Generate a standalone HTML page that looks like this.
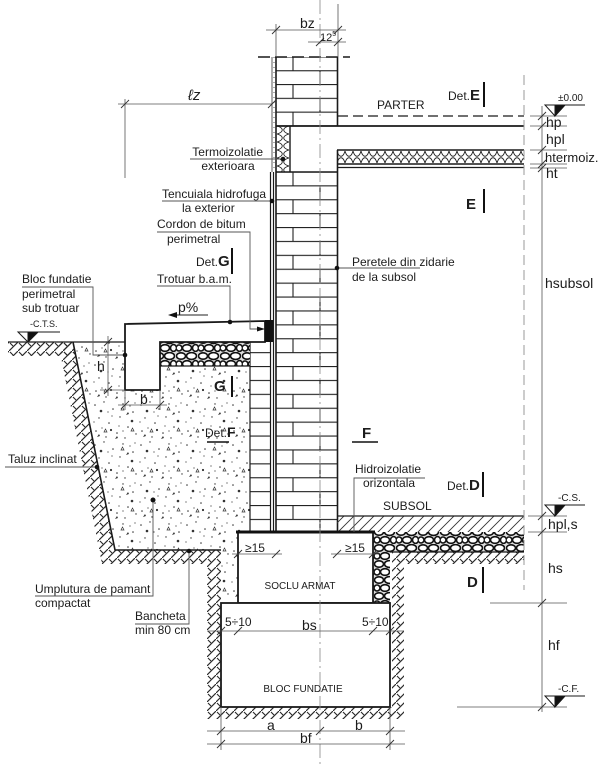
<!DOCTYPE html>
<html><head><meta charset="utf-8"><style>
html,body{margin:0;padding:0;background:#fff;}
svg{display:block;}
text{font-family:"Liberation Sans",Arial,sans-serif;fill:#1c1c1c;}
</style></head><body>
<svg width="604" height="767" viewBox="0 0 604 767" xmlns="http://www.w3.org/2000/svg">
<defs>
<pattern id="brickU" patternUnits="userSpaceOnUse" x="276" y="56.4" width="62" height="27.6">
<path d="M0,0.6H62M0,14.4H62M17,0.6V14.4M44,14.4V28.2" stroke="#222" stroke-width="1.1" fill="none"/>
</pattern>
<pattern id="brickL" patternUnits="userSpaceOnUse" x="276" y="171.4" width="62" height="27.8">
<path d="M0,0.6H62M0,14.5H62M17,0.6V14.5M44,14.5V28.4" stroke="#222" stroke-width="1.1" fill="none"/>
</pattern>
<pattern id="brickP" patternUnits="userSpaceOnUse" x="250" y="171.4" width="20" height="13.9">
<path d="M0,0.6H20" stroke="#222" stroke-width="1.1"/>
</pattern>
<pattern id="insH" patternUnits="userSpaceOnUse" x="337" y="150" width="8" height="14">
<path d="M0,1 C2,8 6,8 8,1 M0,13 C2,6 6,6 8,13" stroke="#222" stroke-width="0.9" fill="none"/>
</pattern>
<pattern id="insV" patternUnits="userSpaceOnUse" x="276" y="126" width="14" height="8">
<path d="M1,0 C8,2 8,6 1,8 M13,0 C6,2 6,6 13,8" stroke="#222" stroke-width="0.9" fill="none"/>
</pattern>
<pattern id="gravel" patternUnits="userSpaceOnUse" x="0" y="0" width="22" height="16">
<rect width="22" height="16" fill="#ddd"/>
<g stroke="#111" stroke-width="1.6" fill="#fff">
<ellipse cx="5" cy="4" rx="4.5" ry="3.2"/><ellipse cx="15.5" cy="4" rx="5" ry="3.4"/>
<ellipse cx="3" cy="12" rx="3" ry="3"/><ellipse cx="11" cy="12" rx="4.5" ry="3.3"/><ellipse cx="19.5" cy="12" rx="3" ry="3.4"/>
</g>
</pattern>
<pattern id="earth" patternUnits="userSpaceOnUse" x="0" y="0" width="9" height="9">
<path d="M0,9 L9,0 M1,1 L4,4" stroke="#2a2a2a" stroke-width="1.15" fill="none"/>
</pattern>
<pattern id="slabH" patternUnits="userSpaceOnUse" x="0" y="0" width="10" height="10">
<path d="M-1,11 L11,-1 M-1,1 L1,-1 M9,11 L11,9" stroke="#333" stroke-width="0.9" fill="none"/>
</pattern>
<pattern id="dots" patternUnits="userSpaceOnUse" x="0" y="0" width="4" height="5">
<circle cx="2" cy="2.5" r="0.55" fill="#333"/>
</pattern>
<pattern id="stip" patternUnits="userSpaceOnUse" x="0" y="0" width="46" height="40">
<g fill="#333">
<circle cx="3" cy="5" r="0.8"/><circle cx="12" cy="2" r="0.7"/><circle cx="21" cy="9" r="0.8"/><circle cx="31" cy="4" r="0.7"/>
<circle cx="41" cy="12" r="0.8"/><circle cx="7" cy="18" r="0.7"/><circle cx="17" cy="23" r="0.8"/><circle cx="28" cy="17" r="0.7"/>
<circle cx="36" cy="27" r="0.8"/><circle cx="44" cy="34" r="0.7"/><circle cx="4" cy="31" r="0.8"/><circle cx="14" cy="37" r="0.7"/>
<circle cx="25" cy="33" r="0.8"/><circle cx="33" cy="38" r="0.7"/><circle cx="20" cy="16" r="0.6"/><circle cx="10" cy="28" r="0.6"/>
<circle cx="38" cy="6" r="0.6"/><circle cx="27" cy="26" r="0.6"/>
<circle cx="16" cy="12" r="0.6"/><circle cx="43" cy="3" r="0.6"/><circle cx="31" cy="31" r="0.6"/><circle cx="2" cy="22" r="0.6"/>
<circle cx="9" cy="11" r="1.3"/><circle cx="40" cy="21" r="1.3"/><circle cx="19" cy="30" r="1.1"/>
<path d="M23,39 l3,-1 l-1,-2 z"/><path d="M34,15 l3,-1 l-1,-2 z"/><path d="M5,37 l3,-1 l-1,-2 z"/>
</g>
<path d="M29,10 l3,0 l-1.5,-3 z M12,32 l3,0 l-1.5,-3 z M39,31 l3,0 l-1.5,-3 z" stroke="#333" stroke-width="0.7" fill="none"/>
</pattern>
</defs>

<rect width="604" height="767" fill="#fff"/>

<!-- earth hatch -->
<path d="M8,342 L73,342 L76,356 L8,356 Z" fill="url(#earth)"/>
<path d="M58,342 L73,342 L115,550 L221,550 L221,707 L392,707 L392,552 L524,552 L524,564 L404,564 L404,719 L207,719 L207,564 L102,564 Z" fill="url(#earth)"/>

<!-- compacted fill -->
<path d="M73,342 L125,342 L125,390 L160,390 L160,366 L250,366 L250,532 L238,532 L238,603 L221,603 L221,550 L115,550 Z" fill="#fff"/>
<path d="M73,342 L125,342 L125,390 L160,390 L160,366 L250,366 L250,532 L238,532 L238,603 L221,603 L221,550 L115,550 Z" fill="url(#stip)"/>

<!-- excavation lines -->
<path d="M73,342 L115,550 L221,550" stroke="#1a1a1a" stroke-width="1.6" fill="none"/>
<path d="M8,342 H125" stroke="#1a1a1a" stroke-width="1.3"/>

<!-- upper wall -->
<rect x="276" y="57" width="62" height="69" fill="url(#brickU)"/>
<rect x="272" y="57" width="4" height="115" fill="url(#dots)"/>
<path d="M272,57 V172" stroke="#333" stroke-width="0.8"/>
<path d="M258,57 H350" stroke="#1a1a1a" stroke-width="1.5" stroke-dasharray="12 5"/>
<path d="M337.5,57 V126" stroke="#1a1a1a" stroke-width="1.6"/>

<!-- insulation vertical -->
<rect x="276" y="126" width="14" height="46" fill="url(#insV)"/>
<path d="M290,126 V172" stroke="#1a1a1a" stroke-width="1.4"/>

<!-- floor / slab -->
<path d="M338,116 H524" stroke="#1a1a1a" stroke-width="1.3" stroke-dasharray="10 5"/>
<path d="M276,126 H524" stroke="#1a1a1a" stroke-width="1.8"/>
<rect x="337" y="150" width="187" height="14" fill="url(#insH)"/>
<path d="M337,150 H524 M337,164 H524" stroke="#1a1a1a" stroke-width="1.4"/>
<path d="M337,167.5 H524" stroke="#1a1a1a" stroke-width="1.2"/>
<path d="M276,172 H337" stroke="#1a1a1a" stroke-width="1.4"/>

<!-- basement wall -->
<rect x="276" y="172" width="61.5" height="360" fill="url(#brickL)"/>
<path d="M276,57 V532" stroke="#1a1a1a" stroke-width="1.6"/>
<path d="M337.5,150 V532" stroke="#1a1a1a" stroke-width="1.6"/>
<rect x="270.5" y="172" width="3" height="360" fill="url(#dots)"/>
<path d="M270.5,172 V532 M273.5,172 V532" stroke="#1a1a1a" stroke-width="1.2"/>

<!-- protective brick -->
<rect x="250" y="342" width="20" height="190" fill="url(#brickP)"/>
<path d="M250,342 V532" stroke="#1a1a1a" stroke-width="1.2"/>

<!-- gravel under sidewalk -->
<rect x="160" y="342" width="90" height="24" fill="url(#gravel)"/>
<path d="M160,366 H250" stroke="#1a1a1a" stroke-width="1.2"/>

<!-- sidewalk + perimeter block -->
<path d="M125,324 L265,321 L265,342 L160,342 L160,390 L125,390 Z" fill="#fff" stroke="#1a1a1a" stroke-width="1.8"/>
<rect x="265" y="320" width="8" height="22" fill="#111"/>

<!-- interior slab -->
<rect x="337" y="516" width="187" height="16" fill="url(#slabH)"/>
<path d="M337,516 H524" stroke="#1a1a1a" stroke-width="1.3"/>
<path d="M373,532 L524,532 L524,552 L390,552 L390,603 L373,603 Z" fill="url(#gravel)"/>
<path d="M390,552 H524" stroke="#1a1a1a" stroke-width="1.3"/>

<!-- foundation -->
<rect x="238" y="532" width="135" height="71" fill="#fff" stroke="#1a1a1a" stroke-width="1.8"/>
<path d="M236,532 H375" stroke="#111" stroke-width="3"/>
<rect x="221" y="603" width="169" height="104" fill="#fff" stroke="#1a1a1a" stroke-width="1.8"/>

<!-- axis -->
<path d="M320,0 V765" stroke="#888" stroke-width="0.8" stroke-dasharray="14 4 2 4"/>
<!-- right boundary dashed -->
<path d="M524,75 V590" stroke="#999" stroke-width="1" stroke-dasharray="10 5"/>

<!-- dimension lines -->
<g stroke="#555" stroke-width="0.8" fill="none">
<path d="M266,30 H346 M276,24 V57 M338,4 V57"/>
<path d="M308,42 H346"/>
<path d="M118,104 H272 M125,99 V178"/>
<path d="M542,106 V712"/>
<path d="M530,116 H567 M530,126 H567 M530,150 H567 M530,164 H567 M530,168 H567"/>
<path d="M528,516 H567 M528,532 H567 M490,603 H567 M457,707 H567"/>
<path d="M108,336 V396 M100,390 H125"/>
<path d="M118,405 H167 M125,390 V410 M160,390 V410"/>
<path d="M232,554 H282 M331,554 H379"/>
<path d="M207,631 H404"/>
<path d="M207,731 H405 M207,744 H405 M221,707 V750 M390,707 V750"/>
</g>
<g stroke="#333" stroke-width="0.9">
<path d="M272,34 L280,26 M334,34 L342,26"/>
<path d="M316,46 L324,38 M334,46 L342,38"/>
<path d="M121,108 L129,100 M268,108 L276,100"/>
<path d="M538,120 L546,112 M538,130 L546,122 M538,154 L546,146 M538,168 L546,160 M538,172 L546,164"/>
<path d="M538,520 L546,512 M538,536 L546,528 M538,607 L546,599 M538,711 L546,703"/>
<path d="M104,346 L112,338 M104,394 L112,386"/>
<path d="M121,409 L129,401 M156,409 L164,401"/>
<path d="M234,558 L242,550 M272,558 L280,550 M333,558 L341,550 M369,558 L377,550"/>
<path d="M217,635 L225,627 M234,635 L242,627 M369,635 L377,627 M386,635 L394,627"/>
<path d="M217,735 L225,727 M316,735 L324,727 M386,735 L394,727 M217,748 L225,740 M386,748 L394,740"/>
</g>

<!-- level symbols -->
<g stroke="#1a1a1a" stroke-width="1">
<path d="M545,105 H585"/><path d="M545,105 L565,105 L555,116 Z" fill="#fff"/><path d="M555,105 L565,105 L555,116 Z" fill="#111"/>
<path d="M545,505 H585"/><path d="M545,505 L565,505 L555,516 Z" fill="#fff"/><path d="M555,505 L565,505 L555,516 Z" fill="#111"/>
<path d="M545,696 H585"/><path d="M545,696 L565,696 L555,707 Z" fill="#fff"/><path d="M555,696 L565,696 L555,707 Z" fill="#111"/>
<path d="M18,332 H60"/><path d="M18,332 L38,332 L28,342 Z" fill="#fff"/><path d="M28,332 L38,332 L28,342 Z" fill="#111"/>
</g>

<!-- detail bars -->
<g stroke="#111" stroke-width="2">
<path d="M484,82 V107 M484,189 V213 M232,248 V274 M232,376 V397 M483,472 V497 M483,567 V593"/>
</g>
<g stroke="#111" stroke-width="1.5">
<path d="M207,442 H229 M352,442 H378"/>
</g>

<!-- leaders -->
<g stroke="#555" stroke-width="0.9" fill="none">
<path d="M190,159 H283"/>
<path d="M162,201 H272"/>
<path d="M157,232 H250 V329 H260"/>
<path d="M157,286 H230 V321"/>
<path d="M22,287 H93 V355 H125"/>
<path d="M337,268 H420"/>
<path d="M5,467 H97"/>
<path d="M425,478 H354 V532"/>
<path d="M35,596 H153 V500"/>
<path d="M135,624 H189 V551"/>
</g>
<path d="M208,315 H174" stroke="#222" stroke-width="1.1"/>
<path d="M168,315 L177,312 L177,318 Z" fill="#111"/>
<path d="M265,329 L257,326.5 L257,331.5 Z" fill="#111"/>
<g fill="#111">
<circle cx="283" cy="159" r="2.3"/><circle cx="272" cy="201" r="2.3"/><circle cx="230" cy="322" r="2.3"/>
<circle cx="125" cy="355" r="2.3"/><circle cx="337" cy="268" r="2.3"/><circle cx="97" cy="467" r="2.3"/>
<circle cx="153" cy="500" r="2.5"/><circle cx="189" cy="551" r="2.3"/>
</g>

<!-- texts -->
<text x="300" y="28" font-size="14">bz</text>
<text x="320" y="41" font-size="11">12<tspan font-size="7" dy="-5">5</tspan></text>
<text x="188" y="100" font-size="15" font-style="italic">ℓz</text>
<text x="377" y="109" font-size="12">PARTER</text>
<text x="448" y="100" font-size="12">Det.<tspan font-weight="bold" font-size="15">E</tspan></text>
<text x="558" y="101" font-size="10">±0.00</text>
<text x="546" y="127" font-size="14">hp</text>
<text x="546" y="144" font-size="14">hpl</text>
<text x="545" y="162" font-size="13">htermoiz.</text>
<text x="546" y="178" font-size="14">ht</text>
<text x="466" y="209" font-size="15" font-weight="bold">E</text>
<text x="263" y="156" font-size="12" text-anchor="end">Termoizolatie</text>
<text x="228" y="170" font-size="12" text-anchor="middle">exterioara</text>
<text x="162" y="198" font-size="12">Tencuiala hidrofuga</text>
<text x="182" y="212" font-size="12">la exterior</text>
<text x="157" y="228" font-size="12">Cordon de bitum</text>
<text x="167" y="243" font-size="12">perimetral</text>
<text x="196" y="266" font-size="12">Det.<tspan font-weight="bold" font-size="15">G</tspan></text>
<text x="157" y="283" font-size="12">Trotuar b.a.m.</text>
<text x="352" y="266" font-size="12">Peretele din zidarie</text>
<text x="352" y="281" font-size="12">de la subsol</text>
<text x="545" y="288" font-size="14">hsubsol</text>
<text x="22" y="283" font-size="12">Bloc fundatie</text>
<text x="22" y="298" font-size="12">perimetral</text>
<text x="22" y="312" font-size="12">sub trotuar</text>
<text x="30" y="327" font-size="9">-C.T.S.</text>
<text x="178" y="312" font-size="14">p%</text>
<text x="97" y="371" font-size="14">h</text>
<text x="140" y="404" font-size="14">b</text>
<text x="214" y="391" font-size="15" font-weight="bold">G</text>
<text x="205" y="437" font-size="12">Det.<tspan font-weight="bold" font-size="14">F</tspan></text>
<text x="362" y="438" font-size="15" font-weight="bold">F</text>
<text x="8" y="463" font-size="12">Taluz inclinat</text>
<text x="355" y="473" font-size="12">Hidroizolatie</text>
<text x="363" y="487" font-size="12">orizontala</text>
<text x="447" y="490" font-size="12">Det.<tspan font-weight="bold" font-size="15">D</tspan></text>
<text x="383" y="510" font-size="12">SUBSOL</text>
<text x="558" y="501" font-size="10">-C.S.</text>
<text x="548" y="529" font-size="14">hpl,s</text>
<text x="245" y="552" font-size="12">≥15</text>
<text x="345" y="552" font-size="12">≥15</text>
<text x="548" y="573" font-size="14">hs</text>
<text x="467" y="587" font-size="15" font-weight="bold">D</text>
<text x="300" y="589" font-size="10" text-anchor="middle">SOCLU ARMAT</text>
<text x="35" y="593" font-size="12">Umplutura de pamant</text>
<text x="35" y="607" font-size="12">compactat</text>
<text x="135" y="620" font-size="12">Bancheta</text>
<text x="135" y="634" font-size="12">min 80 cm</text>
<text x="225" y="626" font-size="12">5÷10</text>
<text x="302" y="630" font-size="14">bs</text>
<text x="362" y="626" font-size="12">5÷10</text>
<text x="548" y="650" font-size="14">hf</text>
<text x="558" y="692" font-size="10">-C.F.</text>
<text x="303" y="692" font-size="10" text-anchor="middle">BLOC FUNDATIE</text>
<text x="267" y="730" font-size="14">a</text>
<text x="355" y="730" font-size="14">b</text>
<text x="300" y="743" font-size="14">bf</text>
</svg>
</body></html>
